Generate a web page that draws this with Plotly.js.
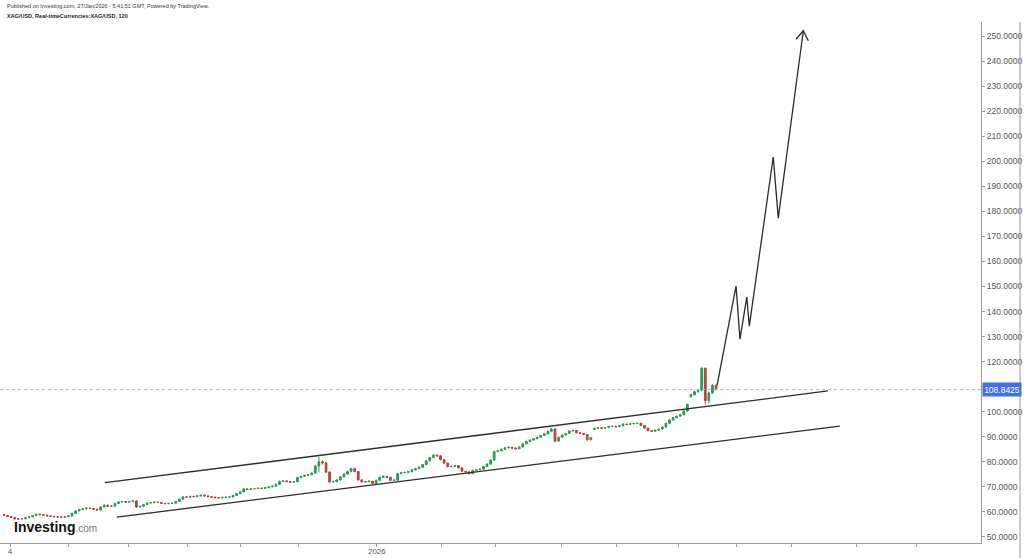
<!DOCTYPE html>
<html>
<head>
<meta charset="utf-8">
<script src="https://cdn.plot.ly/plotly-3.0.1.min.js"></script>
<style>html,body{margin:0;padding:0;background:#fff;}#chart{width:1024px;height:558px;}</style>
</head>
<body>
<div id="chart"></div>
<script>
// ---- Data (2h candles, XAG/USD) ----
const openV = [
58.9,58.6,58.2,57.8,57.2,57.2,57.3,57.7,58.1,58.6,
59.1,58.9,58.7,58.4,58.2,58.1,58.0,57.9,58.1,58.4,
59.4,60.4,60.9,61.2,61.5,61.4,61.1,60.8,62.0,62.7,
62.2,62.3,63.4,64.0,64.1,63.9,64.1,64.4,62.0,62.2,
62.9,63.6,63.7,63.9,63.8,63.4,63.3,63.4,63.5,64.2,
65.1,66.0,65.9,66.2,66.1,66.4,66.7,66.4,66.1,65.9,
65.7,65.6,65.8,65.9,66.0,66.6,67.3,68.0,69.2,69.0,
69.3,69.3,69.5,69.4,69.7,70.0,70.3,71.0,72.2,72.4,
72.1,71.9,72.1,73.7,74.2,74.6,74.9,75.5,78.3,80.0,
79.6,75.9,72.0,72.1,72.8,74.0,75.1,76.1,77.3,76.1,
72.8,72.0,72.1,72.3,71.4,72.6,73.8,74.2,73.8,72.6,
72.7,75.3,75.7,75.8,76.1,76.8,77.3,77.8,78.9,80.4,
81.7,82.7,82.4,80.9,79.5,78.1,78.2,78.5,77.6,76.2,
76.0,75.3,76.6,76.9,77.1,78.1,79.1,80.7,84.1,84.4,
85.0,85.6,85.8,85.5,85.2,85.9,87.2,88.1,88.7,89.2,
89.8,90.5,91.2,92.2,93.1,88.3,89.8,90.7,91.3,92.3,
92.5,91.6,91.3,90.9,88.8,92.9,93.4,93.6,93.4,93.7,
94.1,94.2,94.0,94.4,95.1,94.9,95.2,95.3,95.4,94.5,
93.5,92.5,92.2,92.6,93.1,93.9,95.4,96.7,97.6,98.2,
98.8,100.3,106.0,106.8,108.0,108.5,117.4,104.5,107.5,110.5
];
const highV = [
59.2,58.8,58.4,58.0,57.5,57.5,57.9,58.3,58.8,59.4,
59.3,59.1,58.9,58.6,58.4,58.3,58.2,58.3,58.6,59.7,
60.7,61.2,61.5,61.8,61.7,61.6,61.3,62.3,63.0,62.9,
62.6,63.7,64.3,64.4,64.3,64.3,64.8,64.6,62.5,63.1,
63.8,63.9,64.1,64.1,64.0,63.6,63.6,63.7,64.4,65.4,
66.3,66.3,66.4,66.4,66.6,66.9,66.9,66.6,66.3,66.1,
65.9,66.0,66.1,66.2,66.8,67.6,68.3,69.5,69.4,69.5,
69.5,69.7,69.7,69.9,70.2,70.5,71.3,72.5,72.6,72.6,
72.3,72.3,74.0,74.5,74.9,75.2,75.8,78.8,82.0,80.6,
79.9,76.2,72.5,73.1,74.3,75.4,76.4,77.6,77.5,76.3,
73.0,72.4,72.6,72.5,72.9,74.1,74.5,74.4,74.0,73.0,
75.6,76.0,76.0,76.3,77.1,77.6,78.1,79.2,80.7,82.0,
83.0,82.9,82.6,81.1,79.7,78.4,78.7,78.7,77.8,76.4,
76.2,76.9,77.1,77.3,78.4,79.4,81.0,84.4,84.7,85.3,
85.9,86.1,86.0,85.7,86.2,87.5,88.4,89.0,89.5,90.1,
90.8,91.5,92.5,93.6,93.4,90.1,91.0,91.6,92.6,92.8,
92.7,91.8,91.5,91.1,90.0,93.6,93.8,93.8,93.9,94.3,
94.4,94.4,94.6,95.3,95.3,95.4,95.5,95.6,95.6,94.7,
93.7,92.7,92.8,93.3,94.1,95.7,97.0,97.9,98.5,99.1,
100.6,103.3,107.2,108.4,109.0,117.8,117.6,108.0,111.0,110.9
];
const lowV = [
58.3,58.0,57.6,57.0,56.9,57.0,57.1,57.5,57.9,58.4,
58.7,58.5,58.2,58.0,57.9,57.8,57.7,57.7,57.9,58.2,
59.2,60.2,60.7,61.0,61.2,60.9,60.5,60.6,61.8,62.0,
62.0,62.1,63.2,63.8,63.7,63.7,63.9,61.6,61.8,62.0,
62.7,63.4,63.5,63.6,63.2,63.1,63.1,63.2,63.3,64.0,
64.9,65.7,65.7,65.9,65.9,66.2,66.2,65.9,65.7,65.5,
65.4,65.4,65.6,65.7,65.8,66.4,67.1,67.8,68.8,68.8,
69.1,69.1,69.2,69.2,69.5,69.8,70.1,70.8,72.0,71.9,
71.6,71.7,71.9,73.5,74.0,74.4,74.7,75.3,76.0,78.9,
75.5,71.6,71.7,71.9,72.6,73.8,74.9,75.9,75.9,72.5,
71.7,71.8,71.9,71.1,71.2,72.4,73.6,73.6,72.3,72.4,
72.5,75.1,75.5,75.6,75.9,76.6,77.1,77.6,78.7,80.2,
81.5,82.2,80.6,79.2,77.8,77.9,78.0,77.4,75.9,75.8,
75.0,75.1,76.4,76.7,76.9,77.9,78.9,80.5,83.9,84.2,
84.8,85.4,85.3,85.0,85.0,85.7,87.0,87.9,88.5,89.0,
89.6,90.3,91.0,92.0,87.8,88.0,89.6,90.5,91.1,92.1,
91.4,91.1,90.7,88.5,88.6,92.7,93.2,93.2,93.2,93.5,
93.9,93.8,93.8,94.2,94.7,94.7,95.0,95.1,94.3,93.2,
92.2,92.0,92.0,92.4,92.9,93.7,95.2,96.5,97.4,98.0,
98.6,100.1,105.7,106.6,107.7,108.2,102.8,103.3,107.2,108.5
];
const closeV = [
58.6,58.2,57.8,57.2,57.2,57.3,57.7,58.1,58.6,59.1,
58.9,58.7,58.4,58.2,58.1,58.0,57.9,58.1,58.4,59.4,
60.4,60.9,61.2,61.5,61.4,61.1,60.8,62.0,62.7,62.2,
62.3,63.4,64.0,64.1,63.9,64.1,64.4,62.0,62.2,62.9,
63.6,63.7,63.9,63.8,63.4,63.3,63.4,63.5,64.2,65.1,
66.0,65.9,66.2,66.1,66.4,66.7,66.4,66.1,65.9,65.7,
65.6,65.8,65.9,66.0,66.6,67.3,68.0,69.2,69.0,69.3,
69.3,69.5,69.4,69.7,70.0,70.3,71.0,72.2,72.4,72.1,
71.9,72.1,73.7,74.2,74.6,74.9,75.5,78.3,80.0,79.6,
75.9,72.0,72.1,72.8,74.0,75.1,76.1,77.3,76.1,72.8,
72.0,72.1,72.3,71.4,72.6,73.8,74.2,73.8,72.6,72.7,
75.3,75.7,75.8,76.1,76.8,77.3,77.8,78.9,80.4,81.7,
82.7,82.4,80.9,79.5,78.1,78.2,78.5,77.6,76.2,76.0,
75.3,76.6,76.9,77.1,78.1,79.1,80.7,84.1,84.4,85.0,
85.6,85.8,85.5,85.2,85.9,87.2,88.1,88.7,89.2,89.8,
90.5,91.2,92.2,93.1,88.3,89.8,90.7,91.3,92.3,92.5,
91.6,91.3,90.9,88.8,89.7,93.4,93.6,93.4,93.7,94.1,
94.2,94.0,94.4,95.1,94.9,95.2,95.3,95.4,94.5,93.5,
92.5,92.2,92.6,93.1,93.9,95.4,96.7,97.6,98.2,98.8,
100.3,102.9,106.8,108.0,108.5,117.4,104.5,107.5,110.5,108.84
];
const lastPrice = 108.8425;

// channel lines (bar index, price)
const upperX = [28.2, 230.3];
const upperY = [71.7, 108.3];
const lowerX = [31.5, 233.6];
const lowerY = [57.9, 94.3];
// projected path
const pathX = [199.3, 204.6, 205.7, 207.6, 208.3, 215.0, 216.4, 223.4];
const pathY = [110.5, 150.2, 129.0, 145.8, 134.2, 201.7, 177.3, 252.1];
const headX = [221.35, 223.4, 224.8];
const headY = [248.7, 252.1, 248.1];

// x-axis ticks
const tickPos = [1.7, 17.9, 34.7, 51.4, 66.2, 82.2, 104.2, 122.4, 137.5, 155.7, 171.3, 188.4, 204.6, 220.2, 238.4, 254.9];
const tickText = ['4','','','','','','2026','','','','','','','','',''];
// y-axis ticks (110 is covered by the last-price label)
const yTickVals = [50, 60, 70, 80, 90, 100, 120, 130, 140, 150, 160, 170, 180, 190, 200, 210, 220, 230, 240, 250];

const barIdx = closeV.map((_, i) => i);
const FONT = 'Liberation Sans, Arial, sans-serif';
const UP = '#2a9a5a', DOWN = '#b4443c', LINE = '#2b2b2b';

const traces = [
  {
    type: 'candlestick', x: barIdx, open: openV, high: highV, low: lowV, close: closeV,
    increasing: {line: {color: UP, width: 1}, fillcolor: UP},
    decreasing: {line: {color: DOWN, width: 1}, fillcolor: DOWN},
    whiskerwidth: 0, hoverinfo: 'skip', showlegend: false
  },
  {type: 'scatter', mode: 'lines', x: upperX, y: upperY, line: {color: LINE, width: 1.3}, hoverinfo: 'skip', showlegend: false},
  {type: 'scatter', mode: 'lines', x: lowerX, y: lowerY, line: {color: LINE, width: 1.3}, hoverinfo: 'skip', showlegend: false},
  {type: 'scatter', mode: 'lines', x: pathX, y: pathY, line: {color: LINE, width: 1.3}, hoverinfo: 'skip', showlegend: false},
  {type: 'scatter', mode: 'lines', x: headX, y: headY, line: {color: LINE, width: 1.3}, hoverinfo: 'skip', showlegend: false}
];

const layout = {
  width: 1024, height: 558, autosize: false,
  margin: {l: 0, r: 43, t: 22, b: 15, pad: 0},
  paper_bgcolor: '#ffffff', plot_bgcolor: '#ffffff',
  showlegend: false, hovermode: false,
  font: {family: FONT, color: '#555'},
  xaxis: {
    range: [-1.12, 273.06], showgrid: false, zeroline: false,
    showline: true, linecolor: '#9a9a9a', linewidth: 1,
    ticks: 'outside', ticklen: 3, tickcolor: '#9a9a9a',
    tickmode: 'array', tickvals: tickPos, ticktext: tickText,
    ticklabelstandoff: -3,
    tickfont: {size: 8, color: '#555', family: FONT},
    rangeslider: {visible: false}, fixedrange: true
  },
  yaxis: {
    side: 'right', range: [47.6, 255.6], showgrid: false, zeroline: false,
    showline: true, linecolor: '#9a9a9a', linewidth: 1,
    ticks: 'outside', ticklen: 3, tickcolor: '#9a9a9a',
    tickmode: 'array', tickvals: yTickVals, tickformat: '.4f',
    tickfont: {size: 8.5, color: '#555', family: FONT}, fixedrange: true
  },
  shapes: [
    {type: 'line', xref: 'paper', yref: 'y', x0: 0, x1: 1, y0: lastPrice, y1: lastPrice,
     line: {color: '#aab8e8', width: 1, dash: 'dot'}},
    {type: 'line', xref: 'paper', yref: 'paper', x0: 1.0398, x1: 1.0398, y0: -0.03, y1: 1,
     line: {color: '#9a9a9a', width: 1}}
  ],
  annotations: [
    {xref: 'paper', yref: 'y', x: 1.001, y: lastPrice, xanchor: 'left', yanchor: 'middle',
     text: lastPrice.toFixed(4), showarrow: false, bgcolor: '#4470e0', borderpad: 1.5,
     font: {size: 8.5, color: '#ffffff', family: FONT}, width: 35},
    {xref: 'paper', yref: 'paper', x: 0.0051, y: 1.0307, xanchor: 'left', yanchor: 'middle',
     text: 'Published on Investing.com, 27/Jan/2026 - 5:41:51 GMT, Powered by TradingView.',
     showarrow: false, font: {size: 5.5, color: '#333', family: FONT}},
    {xref: 'paper', yref: 'paper', x: 0.0051, y: 1.0115, xanchor: 'left', yanchor: 'middle',
     text: '<b>XAG/USD, Real-timeCurrencies:XAG/USD, 120</b>',
     showarrow: false, font: {size: 5.5, color: '#222', family: FONT}},
    {xref: 'paper', yref: 'paper', x: 0.0122, y: 0.0307, xanchor: 'left', yanchor: 'middle',
     text: '<b>Investing</b><span style="font-size:10px;color:#777">.com</span>',
     showarrow: false, font: {size: 14, color: '#111', family: FONT}}
  ]
};

Plotly.newPlot('chart', traces, layout, {staticPlot: true, displayModeBar: false});
</script>
</body>
</html>
